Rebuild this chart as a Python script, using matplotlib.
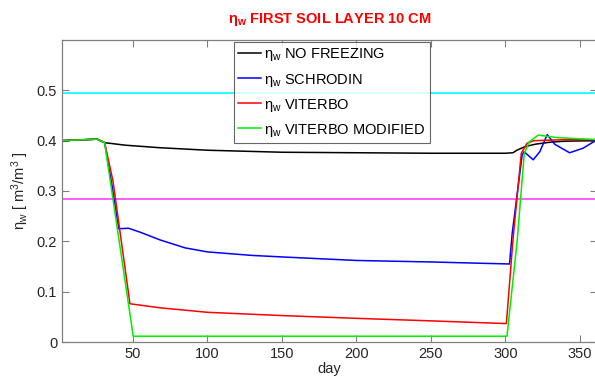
import matplotlib
matplotlib.use("Agg")
import matplotlib.pyplot as plt

plt.rcParams['font.family'] = ['Liberation Sans', 'DejaVu Sans']
plt.rcParams['mathtext.fontset'] = 'custom'
plt.rcParams['mathtext.rm'] = 'Liberation Sans'
plt.rcParams['mathtext.it'] = 'Liberation Sans:italic'

# values
days_nf = [2, 26, 31, 45, 68, 100, 150, 200, 250, 300, 305, 307.6, 313, 320, 330, 340, 361]
no_freezing = [0.400, 0.403, 0.396, 0.391, 0.386, 0.381, 0.377, 0.376, 0.375, 0.375,
               0.376, 0.381, 0.388, 0.393, 0.397, 0.399, 0.400]

days_sc = [2, 26, 31, 36, 40.5, 47, 55, 68, 85, 100, 130, 150, 200, 250, 302.7, 304.5,
           311.2, 312.5, 318.6, 323, 328, 333, 343, 352, 361]
schrodin = [0.400, 0.403, 0.396, 0.31, 0.225, 0.226, 0.218, 0.203, 0.187, 0.179, 0.172,
            0.169, 0.162, 0.159, 0.155, 0.216, 0.372, 0.378, 0.362, 0.378, 0.412, 0.393,
            0.376, 0.385, 0.401]

days_vi = [2, 26, 31, 36.6, 48, 68, 100, 150, 200, 250, 300.6, 305, 310.6, 314.5, 319, 340, 361]
viterbo = [0.400, 0.403, 0.396, 0.32, 0.076, 0.068, 0.059, 0.0525, 0.047, 0.042, 0.0366,
           0.203, 0.375, 0.395, 0.400, 0.402, 0.402]

days_vm = [2, 26, 31, 50.2, 100, 200, 301, 307.8, 312.6, 316, 322, 335, 361]
viterbo_mod = [0.400, 0.403, 0.396, 0.0115, 0.0115, 0.0115, 0.0115, 0.20, 0.375, 0.398,
               0.411, 0.406, 0.402]

saturation = 0.495
field_cap = 0.284

fig = plt.figure(figsize=(5.95, 3.76), dpi=100)
ax = fig.add_axes([62/595, 34/376, 535/595, 302/376])

ax.axhline(saturation, color='#00ffff', lw=1.2)
ax.axhline(field_cap, color='#ff40ff', lw=1.2)

lbl = r'$\mathregular{\eta_w}$ '
ax.plot(days_nf, no_freezing, color='black', lw=1.1, label=lbl + 'NO FREEZING')
ax.plot(days_sc, schrodin, color='#0000ff', lw=1.1, label=lbl + 'SCHRODIN')
ax.plot(days_vi, viterbo, color='#ff0000', lw=1.1, label=lbl + 'VITERBO')
ax.plot(days_vm, viterbo_mod, color='#00ee00', lw=1.1, label=lbl + 'VITERBO MODIFIED')

ax.set_xlim(2.4, 361.4)
ax.set_ylim(0, 0.6)
ax.set_xticks([50, 100, 150, 200, 250, 300, 350])
ax.set_yticks([0, 0.1, 0.2, 0.3, 0.4, 0.5])
ax.set_yticklabels(['0', '0.1', '0.2', '0.3', '0.4', '0.5'])
ax.tick_params(direction='in', length=5, width=0.8, color='#808080',
               labelsize=10.5, labelcolor='#262626', top=True, right=True)
for s in ax.spines.values():
    s.set_color('#808080')
    s.set_linewidth(0.9)

ax.set_xlabel('day', fontsize=10.5, color='#262626', labelpad=1)
ax.set_ylabel(r'$\mathregular{\eta_w}$ [ m$^3$/m$^3$ ]', fontsize=10.5, color='#262626', labelpad=4)
ax.set_title(r'$\mathregular{\eta_w}$ FIRST SOIL LAYER 10 CM', color='red',
             fontweight='bold', fontsize=10.5, pad=12)

leg = ax.legend(loc='upper left', bbox_to_anchor=(0.321, 0.993), fontsize=10.5,
                frameon=True, fancybox=False, handlelength=1.6, handletextpad=0.2,
                borderpad=0.3, labelspacing=0.55, borderaxespad=0)
leg.get_frame().set_edgecolor('#404040')
leg.get_frame().set_linewidth(0.8)

fig.savefig('out.png', dpi=100)
